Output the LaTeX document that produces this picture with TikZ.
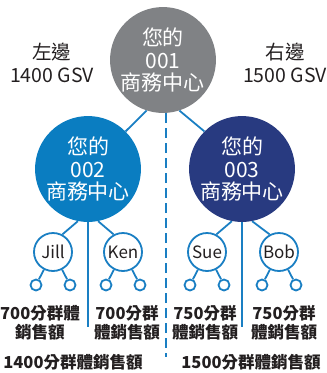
\documentclass[tikz,border=0pt]{standalone}
\usepackage{fontspec}
\setmainfont{Noto Sans CJK TC}
\definecolor{cgray}{HTML}{808285}
\definecolor{cblue}{HTML}{0A7DC1}
\definecolor{cnavy}{HTML}{283A80}
\definecolor{lineblue}{HTML}{1A7FC3}
\definecolor{textdark}{HTML}{231F20}
\begin{document}
\begin{tikzpicture}[x=1pt,y=-1pt,
  big/.style={circle, minimum size=100pt, inner sep=0pt, text=white, align=center,
    font=\fontsize{21}{22.5}\selectfont},
  person/.style={circle, draw=lineblue, line width=1.8pt, minimum size=38pt, inner sep=0pt,
    text=textdark, font=\fontsize{17}{18}\selectfont},
  leaf/.style={circle, draw=lineblue, line width=1.8pt, minimum size=11pt, inner sep=0pt},
  conn/.style={draw=lineblue, line width=1.8pt},
  lbl/.style={align=center, text=textdark, inner sep=0pt, font=\bfseries\fontsize{16.5}{19}\selectfont},
  toplbl/.style={align=center, text=textdark, inner sep=0pt, font=\fontsize{19.5}{23}\selectfont}
]
\useasboundingbox (0,0) rectangle (327,373);
% big circles
\node[big, fill=cgray] (top) at (163,60) {您的\\001\\商務中心};
\node[big, fill=cblue] (c2) at (88,169) {您的\\002\\商務中心};
\node[big, fill=cnavy] (c3) at (242,169) {您的\\003\\商務中心};
% top labels
\node[toplbl] (lleft) at (52,63) {左邊\\1400 GSV};
\node[toplbl] (lright) at (285,63) {右邊\\1500 GSV};
% persons
\node[person] (jill) at (53,252) {Jill};
\node[person] (ken) at (123,252) {Ken};
\node[person] (sue) at (207,252) {Sue};
\node[person] (bob) at (279,252) {Bob};
% leaves
\foreach \p in {jill,ken,sue,bob}{
  \node[leaf] (\p a) at ([shift={(-17,33)}]\p.center) {};
  \node[leaf] (\p b) at ([shift={(17,33)}]\p.center) {};
  \draw[conn] (\p) -- (\p a);
  \draw[conn] (\p) -- (\p b);
}
% connectors
\draw[conn] (top.-108) -- (c2.45);
\draw[conn] (top.-72) -- (c3.135);
\draw[conn] (c2.-101) -- (jill.62);
\draw[conn] (c2.-79) -- (ken.118);
\draw[conn] (c3.-101) -- (sue.62);
\draw[conn] (c3.-79) -- (bob.118);
\coordinate (v2) at (88,327);
\coordinate (v3) at (242,327);
\draw[conn] (c2.south) -- (v2);
\draw[conn] (c3.south) -- (v3);
\coordinate (dtop) at (166,113);
\coordinate (dbot) at (166,357);
\draw[conn, dash pattern=on 10pt off 5pt] (dtop) -- (dbot);
% labels
\node[lbl] (s1) at (40,323) {700分群體\\銷售額};
\node[lbl] (s2) at (127,323) {700分群\\體銷售額};
\node[lbl] (s3) at (205,323) {750分群\\體銷售額};
\node[lbl] (s4) at (284,323) {750分群\\體銷售額};
\node[lbl] (t1) at (73,362) {1400分群體銷售額};
\node[lbl] (t2) at (251,362) {1500分群體銷售額};
\end{tikzpicture}
\end{document}
